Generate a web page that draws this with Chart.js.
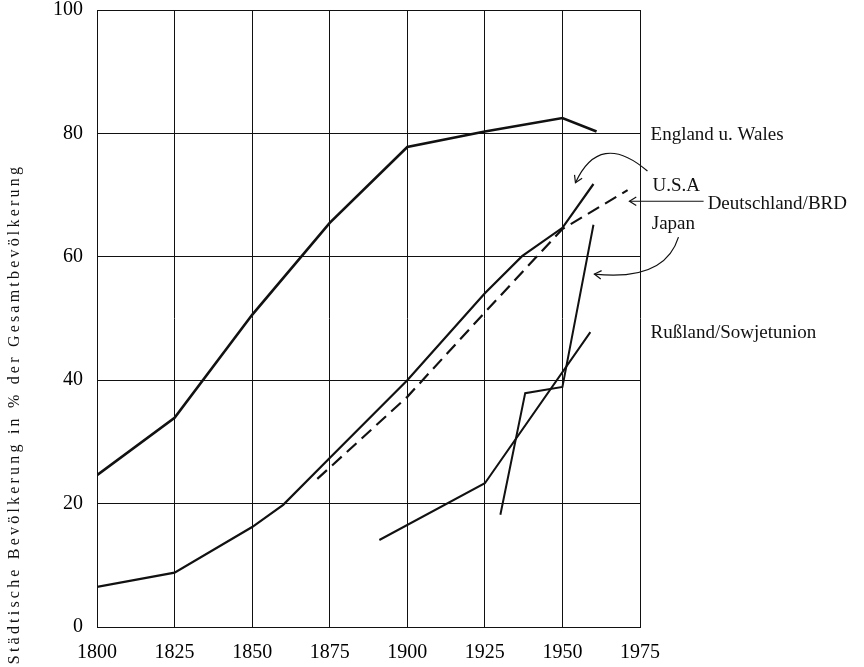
<!DOCTYPE html>
<html>
<head>
<meta charset="utf-8">
<script src="https://cdn.jsdelivr.net/npm/chart.js@4.4.1/dist/chart.umd.min.js"></script>
<style>
html,body{margin:0;padding:0;background:#fff;}
canvas{display:block;}
</style>
</head>
<body>
<canvas id="c" width="864" height="667"></canvas>
<script>
// ---- data ----
const xTicks = [1800, 1825, 1850, 1875, 1900, 1925, 1950, 1975];
const yTicks = [0, 20, 40, 60, 80, 100];

const englandYears = [1800, 1825, 1850, 1875, 1900, 1925, 1950, 1961];
const englandShare = [24.6, 33.9, 50.6, 65.5, 77.8, 80.3, 82.5, 80.3];

const usaYears = [1800, 1825, 1850, 1860, 1875, 1900, 1925, 1937, 1950, 1960];
const usaShare = [6.5, 8.8, 16.2, 19.8, 27.4, 40.0, 54.1, 60.1, 64.7, 71.8];

const germanyYears = [1871, 1900, 1925, 1950, 1971];
const germanyShare = [24.0, 37.3, 51.0, 64.5, 70.8];

const japanYears = [1930, 1938, 1950, 1960];
const japanShare = [18.2, 37.9, 38.9, 65.2];

const russiaYears = [1891, 1925, 1959];
const russiaShare = [14.1, 23.3, 47.8];

const seriesLabels = ['England u. Wales', 'U.S.A', 'Deutschland/BRD', 'Japan', 'Rußland/Sowjetunion'];
const axisTitle = 'Städtische Bevölkerung in % der Gesamtbevölkerung';

// label anchors in data units (x = year, y = percent)
const labelYears = [1978.4, 1979.0, 1996.8, 1978.8, 1978.4];
const labelShares = [79.8, 71.4, 68.6, 65.3, 47.6];

const FONT = '"Liberation Serif", "Times New Roman", serif';

function pts(xs, ys) { return xs.map((x, i) => ({ x: x, y: ys[i] })); }

const ink = '#111';

const annotations = {
  id: 'annotations',
  afterDatasetsDraw(chart) {
    const ctx = chart.ctx;
    const sx = chart.scales.x, sy = chart.scales.y;
    const X = v => sx.getPixelForValue(v), Y = v => sy.getPixelForValue(v);
    ctx.save();
    // right-hand labels
    ctx.fillStyle = ink;
    ctx.font = '19px ' + FONT;
    ctx.textAlign = 'left';
    ctx.textBaseline = 'middle';
    seriesLabels.forEach((t, i) => ctx.fillText(t, X(labelYears[i]), Y(labelShares[i])));

    ctx.strokeStyle = ink;
    ctx.lineWidth = 1.2;
    function head(tx, ty, fx, fy) {
      const a = Math.atan2(ty - fy, tx - fx);
      const L = 8, w = 0.55;
      ctx.beginPath();
      ctx.moveTo(tx - L * Math.cos(a - w), ty - L * Math.sin(a - w));
      ctx.lineTo(tx, ty);
      ctx.lineTo(tx - L * Math.cos(a + w), ty - L * Math.sin(a + w));
      ctx.stroke();
    }
    function curve(p0, c, p1) {
      ctx.beginPath();
      ctx.moveTo(X(p0[0]), Y(p0[1]));
      ctx.quadraticCurveTo(X(c[0]), Y(c[1]), X(p1[0]), Y(p1[1]));
      ctx.stroke();
      head(X(p1[0]), Y(p1[1]), X(c[0]), Y(c[1]));
    }
    // U.S.A arrow
    curve([1977.4, 73.9], [1962, 80.5], [1954.2, 72.0]);
    // Deutschland/BRD arrow (straight)
    ctx.beginPath();
    ctx.moveTo(X(1995.5), Y(69.0));
    ctx.lineTo(X(1971.6), Y(69.0));
    ctx.stroke();
    head(X(1971.6), Y(69.0), X(1980), Y(69.0));
    // Japan arrow
    curve([1987.4, 63.2], [1983, 56.0], [1960.3, 57.2]);

    // y-axis title
    ctx.translate(15, 414);
    ctx.rotate(-Math.PI / 2);
    ctx.font = '16px ' + FONT;
    ctx.textAlign = 'center';
    ctx.textBaseline = 'middle';
    try { ctx.letterSpacing = '3.2px'; } catch (e) {}
    ctx.fillText(axisTitle, 0, 0);
    ctx.restore();
  }
};

const lineStyle = { borderColor: ink, pointRadius: 0, tension: 0, fill: false };

new Chart(document.getElementById('c'), {
  type: 'line',
  data: {
    datasets: [
      Object.assign({ label: seriesLabels[0], data: pts(englandYears, englandShare), borderWidth: 2.6 }, lineStyle),
      Object.assign({ label: seriesLabels[1], data: pts(usaYears, usaShare), borderWidth: 2.2 }, lineStyle),
      Object.assign({ label: seriesLabels[2], data: pts(germanyYears, germanyShare), borderWidth: 2.2, borderDash: [13, 7] }, lineStyle),
      Object.assign({ label: seriesLabels[3], data: pts(japanYears, japanShare), borderWidth: 2 }, lineStyle),
      Object.assign({ label: seriesLabels[4], data: pts(russiaYears, russiaShare), borderWidth: 2 }, lineStyle)
    ]
  },
  options: {
    responsive: false,
    devicePixelRatio: 1,
    animation: false,
    layout: { padding: { left: 0, right: 224, top: 10, bottom: 0 } },
    plugins: { legend: { display: false }, tooltip: { enabled: false }, title: { display: false } },
    scales: {
      x: {
        type: 'linear', min: 1800, max: 1975,
        afterBuildTicks: s => { s.ticks = xTicks.map(v => ({ value: v })); },
        afterFit: s => { s.height = 40; s.paddingLeft = 0; s.paddingRight = 0; },
        grid: { color: ink, lineWidth: 1, drawTicks: false },
        border: { color: ink, width: 1 },
        ticks: { color: '#000', padding: 14, maxRotation: 0, font: { family: FONT, size: 20 }, callback: v => String(v) }
      },
      y: {
        type: 'linear', min: 0, max: 100,
        afterBuildTicks: s => { s.ticks = yTicks.map(v => ({ value: v })); },
        afterFit: s => { s.width = 97; s.paddingTop = 0; s.paddingBottom = 0; },
        grid: { color: ink, lineWidth: 1, drawTicks: false },
        border: { color: ink, width: 1 },
        ticks: { color: '#000', padding: 14, font: { family: FONT, size: 20 }, callback: v => String(v) }
      }
    }
  },
  plugins: [annotations]
});
</script>
</body>
</html>
